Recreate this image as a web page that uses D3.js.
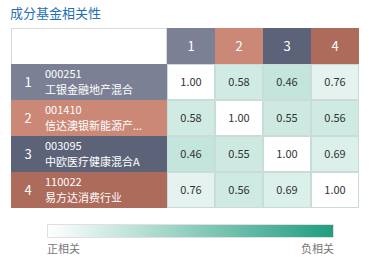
<!DOCTYPE html>
<html>
<head>
<meta charset="utf-8">
<script src="https://cdn.jsdelivr.net/npm/d3@7"></script>
<style>
    body { margin: 0; background: #fff; }
    svg { display: block; font-family: "Noto Sans CJK SC", "Noto Sans", sans-serif; }
</style>
</head>
<body>
<svg id="chart" width="371" height="269"></svg>
<script>
const title = "成分基金相关性";
const fundIds = ["1", "2", "3", "4"];
const fundCodes = ["000251", "001410", "003095", "110022"];
const fundNames = ["工银金融地产混合", "信达澳银新能源产...", "中欧医疗健康混合A", "易方达消费行业"];
const fundColors = ["#7b8095", "#cb8876", "#5c6378", "#ad6b5b"];
const corrMatrix = [
    [1.00, 0.58, 0.46, 0.76],
    [0.58, 1.00, 0.55, 0.56],
    [0.46, 0.55, 1.00, 0.69],
    [0.76, 0.56, 0.69, 1.00],
];
const legendLabels = ["正相关", "负相关"];

function renderMatrix() {
    const svg = d3.select("#chart");
    const left = 11, top = 28, labelW = 156, cellH = 36, headH = 36;
    const right = 359;

    svg.append("text")
        .attr("x", 10).attr("y", 18)
        .attr("fill", "#1f6fb5")
        .attr("font-size", 13)
        .text(title);

    const x = d3.scaleBand().domain(fundIds).range([left + labelW, right]);
    const y = d3.scaleBand().domain(fundIds).range([top + headH, top + headH + cellH * fundIds.length]);
    const color = d3.scaleLinear().domain([1, -1]).range(["#ffffff", "#1f9e7e"]);

    // blank corner
    svg.append("rect")
        .attr("x", left + 0.5).attr("y", top + 0.5)
        .attr("width", labelW - 1).attr("height", headH)
        .attr("fill", "#fff").attr("stroke", "#d9d9d9");

    // header cells
    const head = svg.append("g");
    head.selectAll("rect").data(fundIds).enter().append("rect")
        .attr("x", (d) => x(d)).attr("y", top)
        .attr("width", x.bandwidth()).attr("height", headH)
        .attr("fill", (d, i) => fundColors[i]);
    head.selectAll("text").data(fundIds).enter().append("text")
        .attr("x", (d) => x(d) + x.bandwidth() / 2).attr("y", top + headH / 2 + 5)
        .attr("text-anchor", "middle").attr("fill", "#fff").attr("font-size", 13)
        .text((d) => d);

    // row labels
    const rows = svg.append("g");
    rows.selectAll("rect").data(fundIds).enter().append("rect")
        .attr("x", left).attr("y", (d) => y(d))
        .attr("width", labelW).attr("height", y.bandwidth())
        .attr("fill", (d, i) => fundColors[i]);
    rows.selectAll("text.num").data(fundIds).enter().append("text")
        .attr("class", "num")
        .attr("x", 28).attr("y", (d) => y(d) + y.bandwidth() / 2 + 5)
        .attr("text-anchor", "middle").attr("fill", "#fff").attr("font-size", 13)
        .text((d) => d);
    rows.selectAll("text.code").data(fundCodes).enter().append("text")
        .attr("class", "code")
        .attr("x", 45).attr("y", (d, i) => y(fundIds[i]) + 14)
        .attr("fill", "#fff").attr("font-size", 11)
        .text((d) => d);
    rows.selectAll("text.name").data(fundNames).enter().append("text")
        .attr("class", "name")
        .attr("x", 45).attr("y", (d, i) => y(fundIds[i]) + 30)
        .attr("fill", "#fff").attr("font-size", 11)
        .text((d) => d);

    // matrix cells
    const cells = [];
    corrMatrix.forEach((row, i) => row.forEach((v, j) => cells.push({ r: fundIds[i], c: fundIds[j], v })));
    const grid = svg.append("g");
    grid.selectAll("rect").data(cells).enter().append("rect")
        .attr("x", (d) => x(d.c) + 0.5).attr("y", (d) => y(d.r) + 0.5)
        .attr("width", x.bandwidth() - 1).attr("height", y.bandwidth() - 1)
        .attr("fill", (d) => color(d.v))
        .attr("stroke", "#c9dcd7").attr("stroke-width", 1);
    grid.selectAll("text").data(cells).enter().append("text")
        .attr("x", (d) => x(d.c) + x.bandwidth() / 2).attr("y", (d) => y(d.r) + y.bandwidth() / 2 + 4)
        .attr("text-anchor", "middle").attr("fill", "#333").attr("font-size", 11)
        .text((d) => d.v.toFixed(2));

    // legend
    const defs = svg.append("defs");
    const grad = defs.append("linearGradient").attr("id", "legendGrad");
    grad.append("stop").attr("offset", "0%").attr("stop-color", color(1));
    grad.append("stop").attr("offset", "100%").attr("stop-color", color(-1));
    const lx = d3.scaleLinear().domain([0, 1]).range([47, 334]);
    svg.append("rect")
        .attr("x", lx(0) + 0.5).attr("y", 224.5)
        .attr("width", lx(1) - lx(0) - 1).attr("height", 13)
        .attr("fill", "url(#legendGrad)")
        .attr("stroke", "#e6dce3");
    svg.append("text")
        .attr("x", lx(0)).attr("y", 253)
        .attr("fill", "#777").attr("font-size", 11)
        .text(legendLabels[0]);
    svg.append("text")
        .attr("x", lx(1)).attr("y", 253)
        .attr("text-anchor", "end")
        .attr("fill", "#777").attr("font-size", 11)
        .text(legendLabels[1]);
}

renderMatrix();
</script>
</body>
</html>
